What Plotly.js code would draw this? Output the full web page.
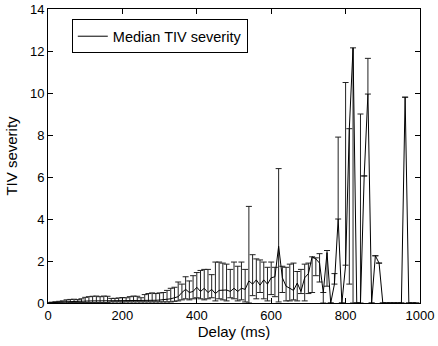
<!DOCTYPE html>
<html>
<head>
<meta charset="utf-8">
<script src="https://cdn.plot.ly/plotly-3.0.1.min.js"></script>
<style>html,body{margin:0;padding:0;background:#fff;}#chart{width:438px;height:346px;}</style>
</head>
<body>
<div id="chart"></div>
<script>
const delay = [0,10,20,30,40,50,60,70,80,90,
  100,110,120,130,140,150,160,170,180,190,
  200,210,220,230,240,250,260,270,280,290,
  300,310,320,330,340,350,360,370,380,390,
  400,410,420,430,440,450,460,470,480,490,
  500,510,520,530,540,550,560,570,580,590,
  600,610,620,630,640,650,660,670,680,690,
  700,710,720,730,740,750,760,770,780,790,
  800,810,820,830,840,850,860,870,880,890,
  900,910,920,930,940,950,960,970,980,990];

const medianSeverity = [0,0.02,0.03,0.04,0.05,0.06,0.07,0.07,0.08,0.08,
  0.09,0.1,0.1,0.1,0.1,0.1,0.1,0.1,0.1,0.1,
  0.1,0.1,0.11,0.11,0.11,0.12,0.12,0.12,0.13,0.13,
  0.14,0.15,0.17,0.2,0.25,0.3,0.5,0.65,0.5,0.55,
  0.75,0.55,0.7,0.5,0.65,0.45,0.6,0.6,0.62,0.55,
  0.7,0.55,0.7,0.65,1.05,0.9,1.1,0.85,1.1,0.9,
  1.2,1.25,2.7,1.2,0.8,0.7,0.6,0.95,0.55,1.2,
  1.4,2.2,2.1,1.9,0.5,2.4,0,0.9,4.0,0,
  1.8,8.3,12.15,0,0,6.05,9.95,0,2.25,1.9,
  0,0,0,0,0,0,9.8,0,0,0];

const upperSeverity = [0,0.04,0.06,0.08,0.1,0.15,0.17,0.18,0.16,0.2,
  0.27,0.3,0.32,0.33,0.3,0.33,0.32,0.22,0.22,0.24,
  0.26,0.25,0.3,0.33,0.32,0.25,0.4,0.45,0.48,0.45,
  0.48,0.5,0.6,0.7,0.75,1.0,0.9,1.25,1.05,1.3,
  1.45,1.55,1.6,1.6,1.35,1.95,1.95,1.9,1.85,1.6,
  1.95,1.75,1.95,1.6,4.6,2.3,2.1,2.05,1.95,1.7,
  1.95,1.7,6.4,1.75,1.7,1.85,1.9,1.5,1.6,1.85,
  1.9,2.2,2.15,2.35,0.5,2.5,0,1.4,7.9,0,
  10.5,8.3,12.15,0,9.0,6.05,11.65,0,2.25,1.9,
  0,0,0,0,0,0,9.8,0,0,0];

const lowerSeverity = [0,0,0,0,0,0,0.02,0.02,0.02,0.02,
  0.02,0.02,0.02,0.02,0.02,0.02,0.02,0.05,0.05,0.05,
  0.05,0.05,0.05,0.05,0.05,0.05,0.05,0.05,0.05,0.05,
  0.05,0.05,0.05,0.05,0.08,0.1,0.15,0.2,0.15,0.2,
  0.25,0.2,0.15,0.2,0.25,0.1,0.2,0.15,0.1,0.25,
  0.2,0.1,0.15,0.05,0,0.35,0.2,0.5,0.2,0.1,
  0.4,0.3,0.05,0.5,0.1,0.1,0.15,0.1,0.45,0.1,
  0.45,0.5,1.3,1.0,0,0.8,0,0.9,4.0,0,
  1.8,0.9,0,0,0,6.05,9.95,0,2.25,1.9,
  0,0,0,0,0,0,9.8,0,0,0];

const seriesName = 'Median TIV severity';

const errPlus = upperSeverity.map((u, i) => u - medianSeverity[i]);
const errMinus = medianSeverity.map((m, i) => m - lowerSeverity[i]);

const trace = {
  x: delay,
  y: medianSeverity,
  type: 'scatter',
  mode: 'lines',
  name: seriesName,
  showlegend: false,
  legendgroup: 'm',
  line: {color: '#000', width: 1},
  error_y: {
    type: 'data',
    symmetric: false,
    array: errPlus,
    arrayminus: errMinus,
    color: '#222',
    thickness: 1,
    width: 3
  }
};

// legend-only entry (plain line sample, no error bar glyph)
const legendTrace = {
  x: [null],
  y: [null],
  type: 'scatter',
  mode: 'lines',
  name: seriesName,
  legendgroup: 'm',
  showlegend: true,
  line: {color: '#000', width: 1}
};

const axisCommon = {
  showline: true,
  linecolor: '#000',
  linewidth: 1,
  mirror: 'ticks',
  ticks: 'inside',
  ticklen: 5,
  tickcolor: '#000',
  showgrid: false,
  zeroline: false,
  tickfont: {family: 'Liberation Sans, Arial, sans-serif', size: 13, color: '#000'}
};

const layout = {
  width: 438,
  height: 346,
  margin: {l: 48, r: 18, t: 9, b: 43},
  paper_bgcolor: '#fff',
  plot_bgcolor: '#fff',
  showlegend: true,
  font: {family: 'Liberation Sans, Arial, sans-serif', color: '#000'},
  xaxis: Object.assign({}, axisCommon, {
    range: [0, 1000],
    tickvals: [0, 200, 400, 600, 800, 1000],
    title: {text: 'Delay (ms)', font: {size: 15, color: '#000'}, standoff: 1}
  }),
  yaxis: Object.assign({}, axisCommon, {
    range: [0, 14],
    tickvals: [0, 2, 4, 6, 8, 10, 12, 14],
    title: {text: 'TIV severity', font: {size: 15, color: '#000'}, standoff: 8}
  }),
  legend: {
    x: 0.064, y: 0.965, xanchor: 'left', yanchor: 'top',
    bgcolor: '#fff',
    bordercolor: '#000',
    borderwidth: 1,
    font: {size: 14.5, color: '#000'},
    tracegroupgap: 0,
    itemwidth: 30
  }
};

Plotly.newPlot('chart', [trace, legendTrace], layout, {displayModeBar: false, staticPlot: true});
</script>
</body>
</html>
